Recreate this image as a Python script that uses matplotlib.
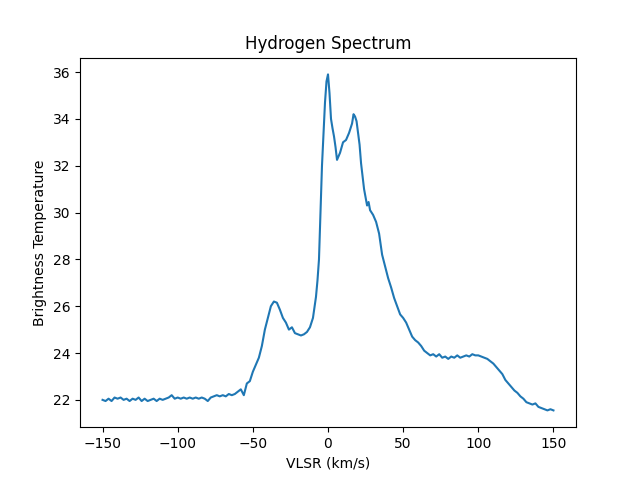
import numpy as np
import matplotlib
matplotlib.use('Agg')
import matplotlib.pyplot as plt

# velocity (km/s)
vlsr = [-150, -148, -146, -144, -142, -140, -138, -136, -134, -132,
        -130, -128, -126, -124, -122, -120, -118, -116, -114, -112,
        -110, -108, -106, -104, -102, -100, -98, -96, -94, -92,
        -90, -88, -86, -84, -82, -80, -78, -76, -74, -72,
        -70, -68, -66, -64, -62, -60, -58, -56, -54, -52,
        -50, -48, -46, -44, -42, -40, -38, -36, -34, -32,
        -30, -28, -26, -24, -22, -20, -18, -16, -14, -12,
        -10, -8, -7, -6, -5, -4, -3, -2, -1, 0,
        1, 2, 3, 4, 5, 6, 7, 8, 10, 12,
        14, 16, 17, 18, 19, 20, 21, 22, 24, 26,
        27, 28, 30, 32, 34, 36, 38, 40, 42, 44,
        46, 48, 50, 52, 54, 56, 58, 60, 62, 64,
        66, 68, 70, 72, 74, 76, 78, 80, 82, 84,
        86, 88, 90, 92, 94, 96, 98, 100, 102, 104,
        106, 108, 110, 112, 114, 116, 118, 120, 122, 124,
        126, 128, 130, 132, 134, 136, 138, 140, 142, 144,
        146, 148, 150]

# brightness temperature
temp = [22.0, 21.95, 22.05, 21.95, 22.1, 22.05, 22.1, 22.0, 22.05, 21.95,
        22.05, 22.0, 22.1, 21.95, 22.05, 21.95, 22.0, 22.05, 21.95, 22.05,
        22.0, 22.05, 22.1, 22.2, 22.05, 22.1, 22.05, 22.1, 22.05, 22.1,
        22.05, 22.1, 22.05, 22.1, 22.05, 21.95, 22.1, 22.15, 22.2, 22.15,
        22.2, 22.15, 22.25, 22.2, 22.25, 22.35, 22.45, 22.2, 22.7, 22.8,
        23.2, 23.5, 23.8, 24.3, 25.0, 25.5, 26.0, 26.2, 26.15, 25.85,
        25.5, 25.3, 25.0, 25.1, 24.85, 24.8, 24.75, 24.8, 24.9, 25.1,
        25.5, 26.4, 27.1, 28.0, 30.0, 32.0, 33.4, 34.7, 35.6, 35.9,
        35.1, 34.0, 33.6, 33.25, 32.8, 32.25, 32.4, 32.55, 33.0, 33.1,
        33.4, 33.8, 34.2, 34.1, 33.9, 33.4, 32.9, 32.1, 31.0, 30.3,
        30.45, 30.1, 29.9, 29.6, 29.1, 28.2, 27.7, 27.2, 26.8, 26.35,
        26.0, 25.65, 25.5, 25.3, 25.0, 24.7, 24.55, 24.45, 24.3, 24.1,
        24.0, 23.9, 23.95, 23.85, 23.95, 23.8, 23.85, 23.75, 23.85, 23.8,
        23.9, 23.8, 23.85, 23.9, 23.85, 23.95, 23.9, 23.9, 23.85, 23.8,
        23.75, 23.65, 23.55, 23.4, 23.25, 23.1, 22.85, 22.7, 22.55, 22.4,
        22.3, 22.15, 22.05, 21.9, 21.85, 21.8, 21.85, 21.7, 21.65, 21.6,
        21.55, 21.6, 21.55]

fig = plt.figure(figsize=(6.4, 4.8), dpi=100)
plt.plot(vlsr, temp)
plt.title('Hydrogen Spectrum')
plt.xlabel('VLSR (km/s)')
plt.ylabel('Brightness Temperature')
plt.savefig('out.png', dpi=100)
